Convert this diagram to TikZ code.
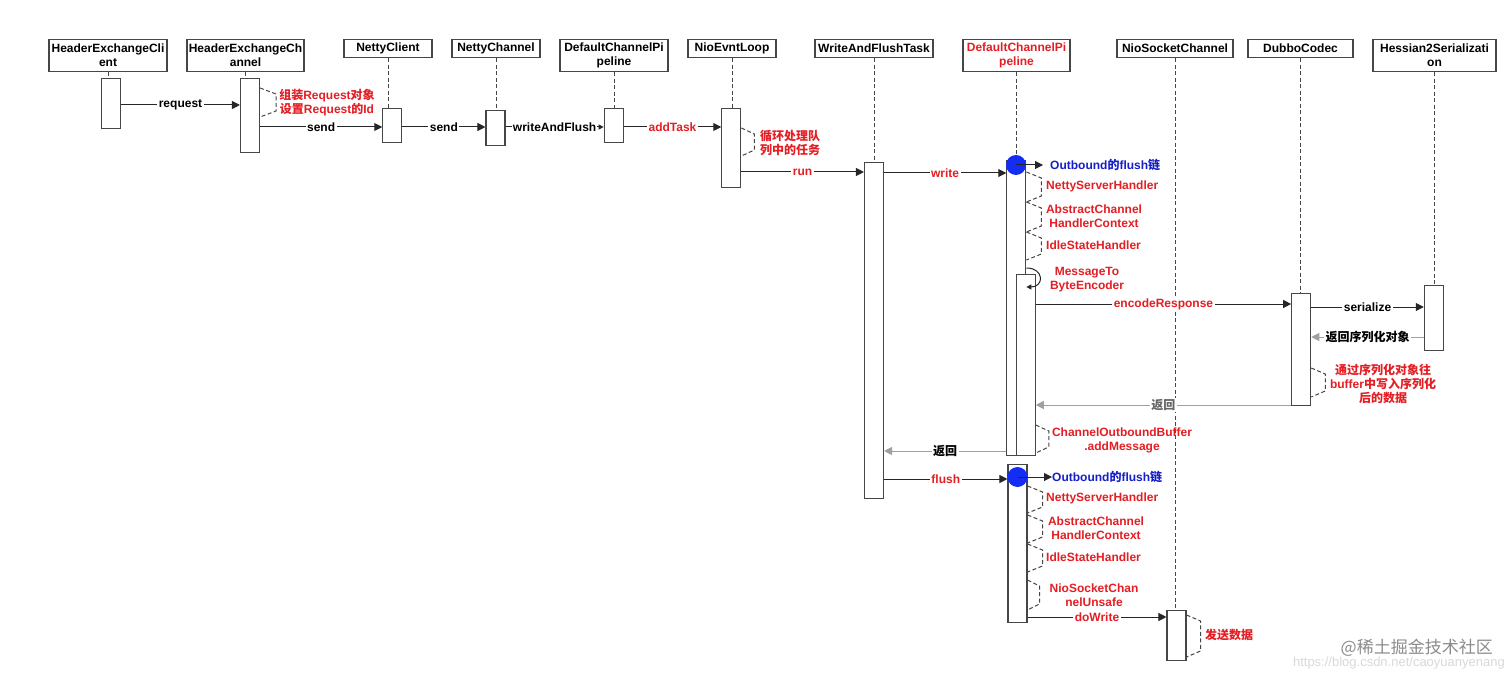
\documentclass[tikz,border=0pt]{standalone}
\usepackage{fontspec}
\setmainfont{Liberation Sans}
\newfontfamily\cjkfont{Noto Sans CJK SC}
\usetikzlibrary{arrows.meta}

\definecolor{msgred}{RGB}{228,30,36}
\definecolor{chainblue}{RGB}{22,30,200}
\definecolor{dotblue}{RGB}{20,45,245}
\definecolor{boxgray}{RGB}{70,70,70}
\definecolor{retgray}{RGB}{160,160,160}

\newcommand{\zh}[1]{{\cjkfont #1}}
\newcommand{\lbfont}{\fontsize{12}{14}\selectfont\bfseries}

\tikzset{
  head/.style={draw=boxgray, line width=1.1pt, fill=white, align=center, inner sep=0pt, font=\lbfont},
  act/.style={draw=boxgray, line width=1.1pt, fill=white, minimum width=19pt, inner sep=0pt},
  life/.style={draw=boxgray, dash pattern=on 4pt off 2.5pt, line width=1pt},
  msg/.style={draw=black!85, line width=1pt, -{Triangle[length=8pt,width=8pt]}},
  back/.style={draw=retgray, line width=1pt, -{Triangle[length=8pt,width=8pt]}},
  lbl/.style={fill=white, inner sep=1.5pt, font=\lbfont},
  rlbl/.style={lbl, text=msgred},
  brk/.style={draw=boxgray, dash pattern=on 4pt off 2.5pt, line width=1pt},
  note/.style={text=msgred, align=center, inner sep=0pt, font=\lbfont},
}

\begin{document}
\begin{tikzpicture}[x=1pt, y=-1pt]

  \fill[white] (0,0) rectangle (1512,679);
  \useasboundingbox (0,0) rectangle (1512,679);

%%%%%%%%%%%% Participants
  \foreach \x/\w/\h/\n/\t in {108/118/32/hClient/{HeaderExchangeCli\\ent},
      245.5/117/32/hChannel/{HeaderExchangeCh\\annel},
      388/88/18/hNClient/{NettyClient},
      496/88/18/hNChannel/{NettyChannel},
      614/108/32/hPipe/{DefaultChannelPi\\peline},
      732/88/18/hLoop/{NioEvntLoop},
      874/118/18/hTask/{WriteAndFlushTask},
      1175/116/18/hSock/{NioSocketChannel},
      1300.5/105/18/hCodec/{DubboCodec},
      1434.5/123/32/hHess/{Hessian2Serializati\\on}}
    \node[head, minimum width=\w, minimum height=\h, anchor=north] (\n) at (\x,39) {\t};
  \node[head, text=msgred, minimum width=107, minimum height=32, anchor=north] (hPipe2) at (1016.5,39) {DefaultChannelPi\\peline};

%%%%%%%%%%%% Activations
  \foreach \n/\x/\t/\b in {clA/111/78/128, chA/250/78/152, ncA/392.3/108/142,
      nchA/495.5/110/145, dpA/613.7/108/142, elA/731.3/108/187, wtA/874/162/498,
      p1A/1016.3/160/455, p1B/1025.7/274/455, cdA/1301.2/293/405, hsA/1433.8/285/350,
      p2A/1017.5/464/622, skA/1176.5/610/660}
    \node[act, minimum height=\b-\t, anchor=north] (\n) at (\x,\t) {};

  \foreach \h/\a in {hClient/clA, hChannel/chA, hNClient/ncA, hNChannel/nchA, hPipe/dpA,
      hLoop/elA, hTask/wtA, hPipe2/p1A, hSock/skA, hCodec/cdA, hHess/hsA}
    \draw[life] (\h.south) -- (\h.south |- \a.north);

%%%%%%%%%%%% Calls
  \draw[msg] (clA.east |- 0,105) -- node[lbl] {request} (chA.west |- 0,105);
  \draw[msg] (chA.east |- 0,127) -- node[lbl] {send} (ncA.west |- 0,127);
  \draw[msg] (ncA.east |- 0,127) -- node[lbl] {send} (nchA.west |- 0,127);
  \draw[msg, -{Triangle[length=5pt,width=5pt]}] (nchA.east |- 0,127) -- node[lbl, inner sep=0.5pt] {writeAndFlush} (dpA.west |- 0,127);
  \draw[msg] (dpA.east |- 0,127) -- node[rlbl] {addTask} (elA.west |- 0,127);
  \draw[msg] (elA.east |- 0,172) -- node[rlbl] {run} (wtA.west |- 0,172);
  \draw[msg] (wtA.east |- 0,173) -- node[rlbl] {write} (p1A.west |- 0,173);
  \draw[msg] (p1B.east |- 0,304) -- node[rlbl] {encodeResponse} (cdA.west |- 0,304);
  \draw[msg] (cdA.east |- 0,307) -- node[lbl] {serialize} (hsA.west |- 0,307);
  \draw[back] (hsA.west |- 0,337) -- node[lbl] {\zh{返回序列化对象}} (cdA.east |- 0,337);
  \draw[back] (cdA.west |- 0,405) -- node[lbl, text=black!60] {\zh{返回}} (p1B.east |- 0,405);
  \draw[back] (p1A.west |- 0,451) -- node[lbl] {\zh{返回}} (wtA.east |- 0,451);
  \draw[msg] (wtA.east |- 0,479) -- node[rlbl] {flush} (p2A.west |- 0,479);
  \draw[msg] (p2A.east |- 0,617) -- node[rlbl] {doWrite} (skA.west |- 0,617);

  % self call of the encoder
  \draw[msg, -{Triangle[length=5pt,width=5pt]}] (p1A.east |- 0,268) .. controls +(18,0) and +(18,0) .. (p1A.east |- 0,287);

%%%%%%%%%%%% Outbound chains
  \node[circle, fill=dotblue, minimum size=20pt, inner sep=0pt] (c1) at (1016,165) {};
  \node[circle, fill=dotblue, minimum size=20pt, inner sep=0pt] (c2) at (1017.5,477) {};
  \node[inner sep=0pt, anchor=west, text=chainblue, font=\lbfont] (nChain1) at (1050,165) {Outbound\zh{的}flush\zh{链}};
  \node[inner sep=0pt, anchor=west, text=chainblue, font=\lbfont] (nChain2) at (1052,477) {Outbound\zh{的}flush\zh{链}};
  \coordinate (chEnd1) at (1043,165);
  \draw[msg] (c1.center) -- (chEnd1);
  \draw[msg] (c2.center) -- (nChain2.west);

%%%%%%%%%%%% Notes
  \foreach \a/\t/\b/\d in {chA/88/117/16, elA/128/156/13, p1A/172/202/15, p1A/202/232/15,
      p1A/232/260/15, cdA/368/397/14, p1B/425/453/13, p2A/486/513/15, p2A/515/543/15,
      p2A/544/572/15, p2A/580/610/12, skA/615/657/14}
    \draw[brk] (\a.east |- 0,\t) -- ++(\d,6) -- ++(0,{\b-\t-12}) -- (\a.east |- 0,\b);

  \node[note] (nAssemble) at (327,103) {\zh{组装}Request\zh{对象}\\\zh{设置}Request\zh{的}Id};
  \node[note] (nLoop) at (790,142.5) {\zh{循环处理队}\\\zh{列中的任务}};
  \node[note, anchor=west] (nHandler1) at (1046,186) {NettyServerHandler};
  \node[note] (nCtx1) at (1094,216) {AbstractChannel\\HandlerContext};
  \node[note, anchor=west] (nIdle1) at (1046,245) {IdleStateHandler};
  \node[note] (nEncoder) at (1087,280) {MessageTo\\ByteEncoder};
  \node[note] (nWrite) at (1383,384) {\zh{通过序列化对象往}\\buffer\zh{中写入序列化}\\\zh{后的数据}};
  \node[note] (nBuffer) at (1122,440) {ChannelOutboundBuffer\\.addMessage};
  \node[note, anchor=west] (nHandler2) at (1046,498) {NettyServerHandler};
  \node[note] (nCtx2) at (1096,528) {AbstractChannel\\HandlerContext};
  \node[note, anchor=west] (nIdle2) at (1046,557) {IdleStateHandler};
  \node[note] (nUnsafe) at (1094,595) {NioSocketChan\\nelUnsafe};
  \node[note, anchor=west] (nSend) at (1205,635) {\zh{发送数据}};

  % watermark
  \node[inner sep=0pt, anchor=east, text=black!45, font=\cjkfont\fontsize{17}{17}\selectfont] (wmSite) at (1493,648) {@稀土掘金技术社区};
  \node[inner sep=0pt, anchor=east, text=black!15, font=\fontsize{13}{13}\selectfont] (wmUrl) at (1505,663) {https://blog.csdn.net/caoyuanyenang};
\end{tikzpicture}
\end{document}
